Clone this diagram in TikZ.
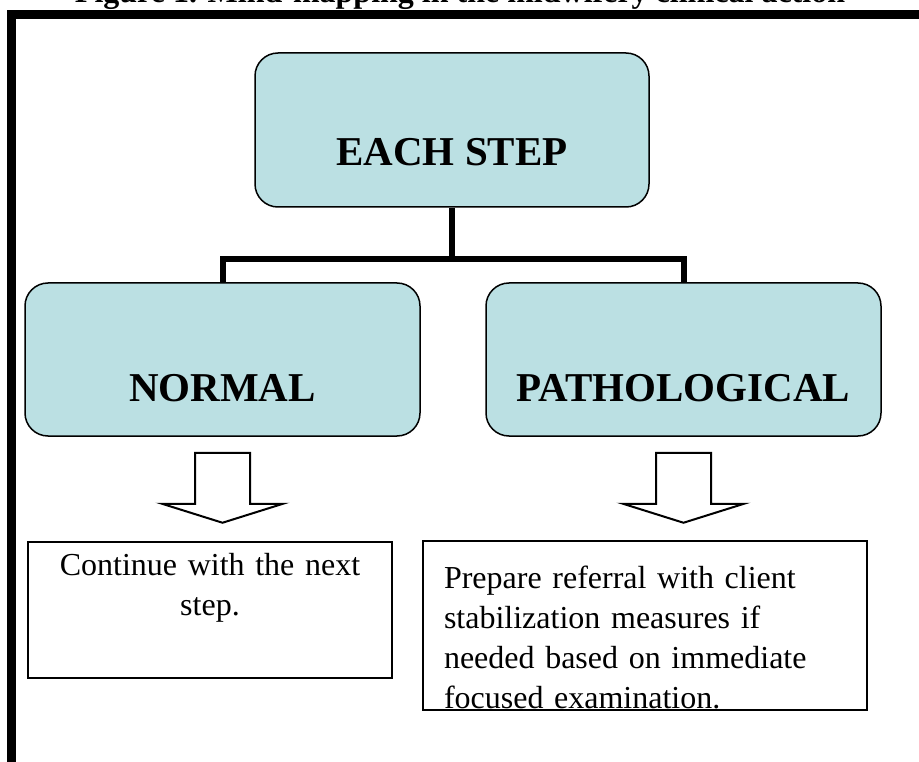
\documentclass[tikz,border=0pt]{standalone}
\usepackage{fontspec}
\setmainfont{Liberation Serif}
\usepackage{xcolor}
\definecolor{boxblue}{RGB}{187,224,227}

\begin{document}
\begin{tikzpicture}[x=1pt, y=-1pt,
    headbox/.style={draw, line width=1.5pt, fill=boxblue, rounded corners=23pt,
      inner ysep=0pt, font=\fontsize{41}{48}\selectfont\bfseries},
    textbox/.style={draw, line width=1.5pt, inner ysep=0pt,
      font=\fontsize{32}{40}\selectfont},
    conn/.style={line width=6pt},
    blockarrow/.style={draw, line width=2pt, fill=white}]
        \useasboundingbox (0,0) rectangle (919,762);

        % Title (cut off at the top of the page)
        \node[anchor=base, font=\fontsize{32}{38}\selectfont\bfseries] (title) at (460,3)
            {Figure 1. Mind-mapping in the midwifery clinical action};

        % Frame
        \draw[line width=9pt] (11.5,762) -- (11.5,14.5) -- (919,14.5);

        % Step boxes
        \node[headbox, minimum width=394pt, text height=113pt, text depth=41pt] (each) at (452,130) {EACH STEP};
        \node[headbox, minimum width=395pt, text height=118pt, text depth=35pt] (normal) at (222.5,359.5) {NORMAL};
        \node[headbox, minimum width=395pt, text height=118pt, text depth=35pt] (patho) at (683.5,359.5) {PATHOLOGICAL};

        % Connectors
        \coordinate (split) at (452,259);
        \draw[conn] (each.south) -- (split);
        \draw[conn] (normal.north) |- (split) -| (patho.north);

        % Block arrows
        \foreach \b in {normal,patho}
            \draw[blockarrow] ([xshift=-27.5pt,yshift=-16pt]\b.south) -- ++(0,51) -- ++(-33,0)
                -- ([yshift=-86pt]\b.south) -- ([xshift=60.5pt,yshift=-67pt]\b.south)
                -- ++(-33,0) -- ++(0,-51) -- cycle;

        % Action boxes
        \node[textbox, align=center, text width=364pt, inner xsep=0pt, text height=33pt, text depth=103pt] (cont) at (210,610)
            {Continue with the next\\step.};
        \node[textbox, align=left, text width=402pt, inner xsep=21pt, text height=47pt, text depth=122pt] (refer) at (645,625.5)
            {Prepare referral with client\\stabilization measures if\\needed based on immediate\\focused examination.};
    \end{tikzpicture}
\end{document}
